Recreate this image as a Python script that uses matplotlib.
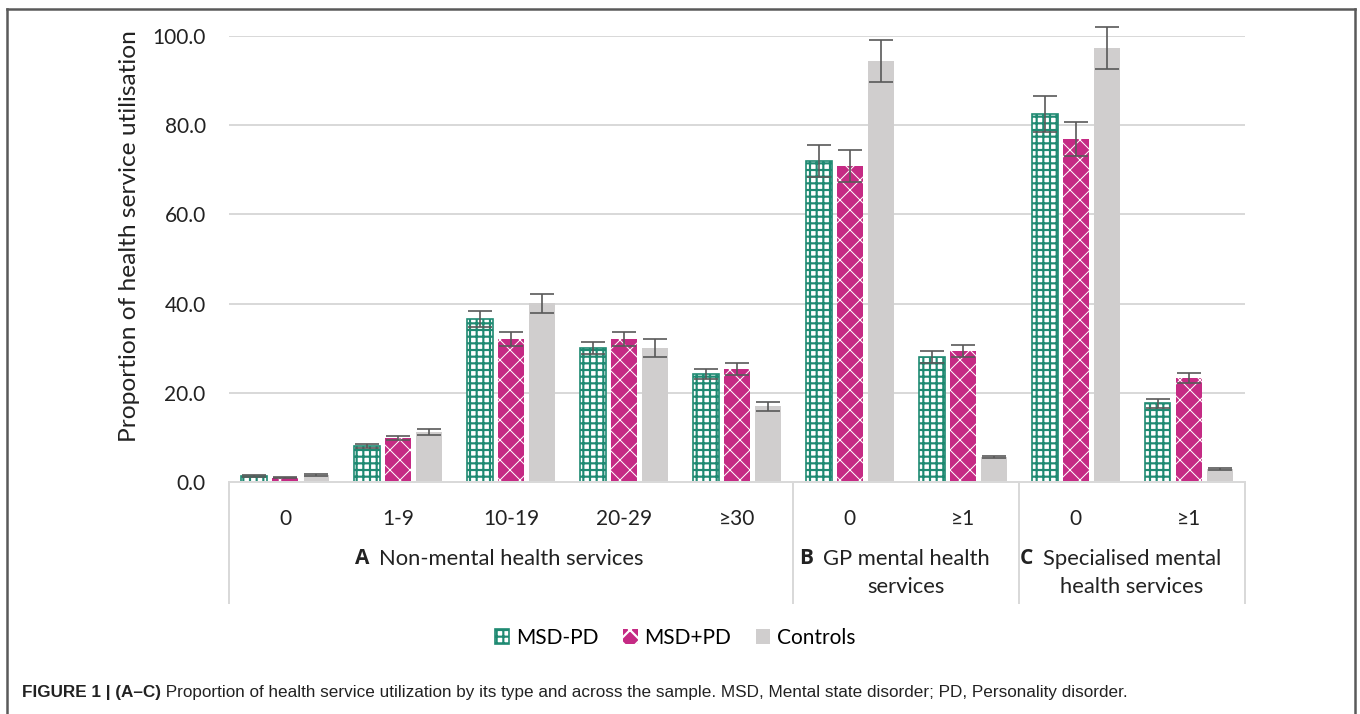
import numpy as np
import matplotlib
matplotlib.use('Agg')
import matplotlib.pyplot as plt
from matplotlib.lines import Line2D

plt.rcParams['font.family'] = ['Lato', 'DejaVu Sans']
plt.rcParams['hatch.linewidth'] = 1.3

# data
categories = ['0', '1-9', '10-19', '20-29', '≥30', '0', '≥1', '0', '≥1']
series = ['MSD-PD', 'MSD+PD', 'Controls']
msd_no_pd = [1.3, 8.1, 36.5, 30.0, 24.2, 72.0, 28.0, 82.5, 17.7]
msd_pd = [1.0, 9.9, 32.1, 32.1, 25.3, 70.9, 29.4, 76.9, 23.3]
controls = [1.5, 11.2, 40.1, 30.0, 17.0, 94.4, 5.6, 97.3, 2.9]
err_no_pd = [0.2, 0.4, 1.8, 1.3, 1.2, 3.6, 1.3, 4.0, 1.0]
err_pd = [0.2, 0.5, 1.6, 1.5, 1.3, 3.6, 1.3, 3.9, 1.2]
err_ctrl = [0.2, 0.6, 2.1, 2.0, 1.0, 4.7, 0.3, 4.7, 0.2]
groups = [('A', 'Non-mental health services', ''),
          ('B', 'GP mental health', 'services'),
          ('C', 'Specialised mental', 'health services')]
group_spans = [(0, 4), (5, 6), (7, 8)]

teal = '#1F8A72'
magenta = '#C52A84'
grey = '#D0CECE'
gridc = '#D9D9D9'
txt = '#222222'

W, H = 1360, 714
fig = plt.figure(figsize=(W / 120, H / 120), dpi=120)
ax = fig.add_axes([229 / W, 1 - 482 / H, (1245 - 229) / W, (482 - 36) / H])

x = np.arange(len(categories))
bw = 0.23
off = 0.275
ekw = dict(ecolor='#595959', elinewidth=1.0, capsize=7, capthick=1.0)

ax.bar(x - off, msd_no_pd, bw, color='white', edgecolor=teal, linewidth=1.0,
       hatch='+++', label=series[0], yerr=err_no_pd, error_kw=ekw, zorder=2)
with plt.rc_context({'hatch.linewidth': 0.6}):
    ax.bar(x, msd_pd, bw, color=magenta, edgecolor='white', linewidth=0,
           hatch='xx', label=series[1], yerr=err_pd, error_kw=ekw, zorder=2)
ax.bar(x + off, controls, bw, color=grey, linewidth=0, label=series[2],
       yerr=err_ctrl, error_kw=ekw, zorder=2)

# let the tall error bars poke above the plot area
for art in ax.lines + ax.collections:
    art.set_clip_on(False)

ax.set_xlim(-0.5, len(categories) - 0.5)
ax.set_ylim(0, 100)
ax.set_yticks(np.arange(0, 101, 20))
ax.set_yticklabels([f'{v:.1f}' for v in np.arange(0, 101, 20)], fontsize=12.5, color=txt)
ax.tick_params(axis='y', length=0, pad=14)
ax.set_xticks([])
ax.yaxis.grid(True, color=gridc, linewidth=1.2, zorder=0)
ax.set_axisbelow(True)
for s in ['top', 'right', 'left']:
    ax.spines[s].set_visible(False)
ax.spines['bottom'].set_color(gridc)
ax.spines['bottom'].set_linewidth(1.2)

trans = ax.get_xaxis_transform()
ah = 482 - 36
for i, lab in enumerate(categories):
    ax.text(i, -(519 - 482) / ah, lab, transform=trans, ha='center', va='center',
            fontsize=12.5, color=txt)

# group separators
for xs in [-0.5, 4.5, 6.5, 8.5]:
    ax.add_line(Line2D([xs, xs], [0, -(603 - 482) / ah], transform=trans,
                       color=gridc, linewidth=1.2, clip_on=False))

for (letter, l1, l2), (a, b) in zip(groups, group_spans):
    cx = (a + b) / 2
    t1 = ax.text(cx, -(559 - 482) / ah, l1, transform=trans, ha='center',
                 va='center', fontsize=13.2, color=txt)
    ax.annotate(letter, xy=(0, 0.5), xycoords=t1, xytext=(-6, 0),
                textcoords='offset points', ha='right', va='center',
                family=['Open Sans', 'DejaVu Sans'], fontsize=12.5,
                fontweight='bold', color=txt)
    if l2:
        ax.text(cx, -(587 - 482) / ah, l2, transform=trans, ha='center',
                va='center', fontsize=13.2, color=txt)

fig.text(130 / W, 1 - 236 / H, 'Proportion of health service utilisation',
         rotation=90, ha='center', va='center', fontsize=14.7, color=txt)

fig.legend(loc='center', bbox_to_anchor=(675 / W, 1 - 638 / H), ncol=3,
           frameon=False, fontsize=12.5, handlelength=0.7, handleheight=0.7,
           handletextpad=0.3, columnspacing=1.2)

# outer frame
fc = '#5a5a5a'
fig.add_artist(Line2D([7 / W, 7 / W], [0, 1 - 9 / H], color=fc, lw=1.5))
fig.add_artist(Line2D([1355 / W, 1355 / W], [0, 1 - 9 / H], color=fc, lw=1.5))
fig.add_artist(Line2D([7 / W, 1355 / W], [1 - 9 / H, 1 - 9 / H], color=fc, lw=1.5))

cap_font = ['Liberation Sans Narrow', 'Liberation Sans', 'DejaVu Sans']
t = fig.text(22 / W, 1 - 693 / H, 'FIGURE 1 | (A\u2013C)', family=cap_font,
             fontweight='bold', fontsize=10.25, ha='left', va='center', color=txt)
ax.annotate(' Proportion of health service utilization by its type and across the sample. '
            'MSD, Mental state disorder; PD, Personality disorder.',
            xy=(1, 0.5), xycoords=t, ha='left', va='center', family=cap_font,
            fontsize=10.25, color=txt, annotation_clip=False)

fig.savefig('out.png', dpi=120)
